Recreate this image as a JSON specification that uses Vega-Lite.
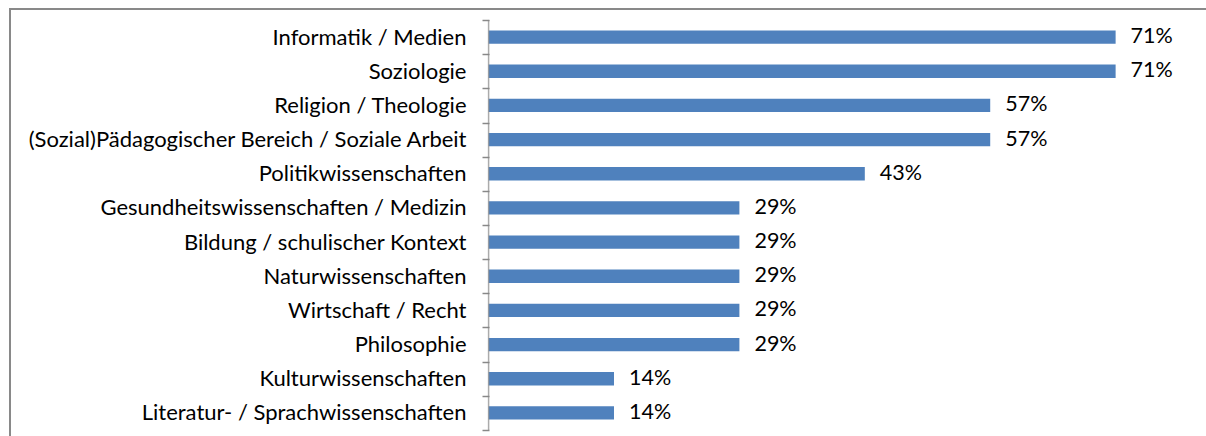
{
  "$schema": "https://vega.github.io/schema/vega-lite/v6.json",
  "width": 1200,
  "height": 432,
  "autosize": {"type": "none"},
  "padding": {"left": 10, "top": 9, "right": 0, "bottom": 0},
  "background": "white",
  "config": {
    "view": {"stroke": "#898989", "strokeWidth": 2, "fill": "white"},
    "font": "Lato"
  },
  "data": {
    "values": [
      {"cat": "Informatik / Medien", "value": 0.7142857},
      {"cat": "Soziologie", "value": 0.7142857},
      {"cat": "Religion / Theologie", "value": 0.5714286},
      {"cat": "(Sozial)Pädagogischer Bereich / Soziale Arbeit", "value": 0.5714286},
      {"cat": "Politikwissenschaften", "value": 0.4285714},
      {"cat": "Gesundheitswissenschaften / Medizin", "value": 0.2857143},
      {"cat": "Bildung / schulischer Kontext", "value": 0.2857143},
      {"cat": "Naturwissenschaften", "value": 0.2857143},
      {"cat": "Wirtschaft / Recht", "value": 0.2857143},
      {"cat": "Philosophie", "value": 0.2857143},
      {"cat": "Kulturwissenschaften", "value": 0.1428571},
      {"cat": "Literatur- / Sprachwissenschaften", "value": 0.1428571}
    ]
  },
  "encoding": {
    "y": {
      "field": "cat",
      "type": "nominal",
      "sort": null,
      "scale": {"paddingInner": 0, "paddingOuter": 0.322},
      "axis": {
        "title": null,
        "offset": -479,
        "domain": false,
        "tickBand": "extent",
        "tickSize": 7,
        "tickColor": "#888888",
        "tickWidth": 1.5,
        "labelPadding": 16,
        "labelFontSize": 22,
        "labelColor": "black",
        "labelFont": "Lato",
        "labelLimit": 0
      }
    }
  },
  "layer": [
    {
      "mark": {"type": "bar", "color": "#4F81BD", "height": {"band": 0.39}},
      "encoding": {
        "x": {
          "field": "value",
          "type": "quantitative",
          "scale": {"domain": [-0.5452, 0.8218], "nice": false, "zero": true},
          "axis": null
        },
        "x2": {"datum": 0}
      }
    },
    {
      "mark": {"type": "text", "align": "left", "dx": 15, "fontSize": 21.5, "color": "black", "font": "Lato"},
      "encoding": {
        "x": {"field": "value", "type": "quantitative"},
        "text": {"field": "value", "type": "quantitative", "format": ".0%"}
      }
    },
    {
      "mark": {"type": "tick", "color": "#888888", "thickness": 1.5, "size": 34.3},
      "encoding": {
        "x": {"datum": 0, "type": "quantitative"}
      }
    }
  ]
}
